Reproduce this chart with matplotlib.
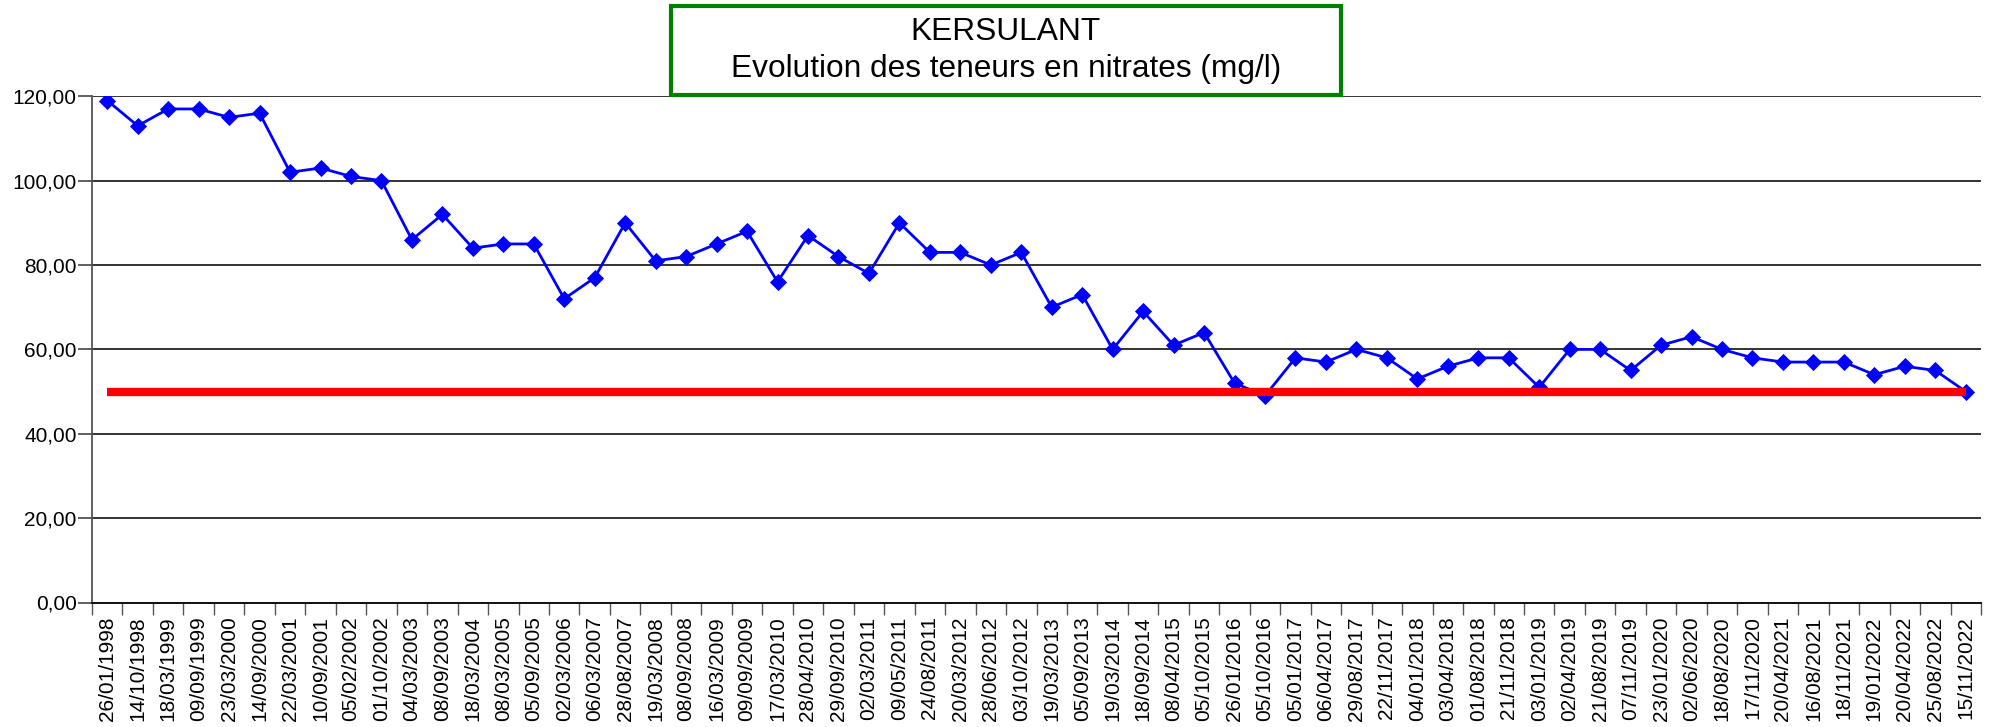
import matplotlib
matplotlib.use("Agg")
import matplotlib.pyplot as plt
from matplotlib.patches import Rectangle
from matplotlib.ticker import FuncFormatter, FixedLocator

plt.rcParams['font.family'] = ['Liberation Sans', 'DejaVu Sans']

dates = ["26/01/1998", "14/10/1998", "18/03/1999", "09/09/1999", "23/03/2000", "14/09/2000",
         "22/03/2001", "10/09/2001", "05/02/2002", "01/10/2002", "04/03/2003", "08/09/2003",
         "18/03/2004", "08/03/2005", "05/09/2005", "02/03/2006", "06/03/2007", "28/08/2007",
         "19/03/2008", "08/09/2008", "16/03/2009", "09/09/2009", "17/03/2010", "28/04/2010",
         "29/09/2010", "02/03/2011", "09/05/2011", "24/08/2011", "20/03/2012", "28/06/2012",
         "03/10/2012", "19/03/2013", "05/09/2013", "19/03/2014", "18/09/2014", "08/04/2015",
         "05/10/2015", "26/01/2016", "05/10/2016", "05/01/2017", "06/04/2017", "29/08/2017",
         "22/11/2017", "04/01/2018", "03/04/2018", "01/08/2018", "21/11/2018", "03/01/2019",
         "02/04/2019", "21/08/2019", "07/11/2019", "23/01/2020", "02/06/2020", "18/08/2020",
         "17/11/2020", "20/04/2021", "16/08/2021", "18/11/2021", "19/01/2022", "20/04/2022",
         "25/08/2022", "15/11/2022"]

nitrates = [119, 113, 117, 117, 115, 116, 102, 103, 101, 100, 86, 92,
            84, 85, 85, 72, 77, 90, 81, 82, 85, 88, 76, 87,
            82, 78, 90, 83, 83, 80, 83, 70, 73, 60, 69, 61,
            64, 52, 49, 58, 57, 60, 58, 53, 56, 58, 58, 51,
            60, 60, 55, 61, 63, 60, 58, 57, 57, 57, 54, 56,
            55, 50]

seuil = 50
yticks = [0, 20, 40, 60, 80, 100, 120]
title_lines = ["KERSULANT", "Evolution des teneurs en nitrates (mg/l)"]

W, H = 1991, 727
fig = plt.figure(figsize=(W / 100, H / 100), dpi=100)
ax = fig.add_axes([92 / W, 1 - 602.5 / H, (1981 - 92) / W, (602.5 - 96.3) / H])

x = list(range(len(dates)))

for yv in yticks:
    ax.axhline(yv, color='#333333', lw=1.4, zorder=1)

ax.plot(x, nitrates, color='#0000FF', lw=2.0, marker='D', markersize=8.0,
        markerfacecolor='#0000FF', markeredgecolor='#0000FF', markeredgewidth=0.6, zorder=3)
ax.plot([x[0], x[-1]], [seuil, seuil], color='#FF0000', lw=6, solid_capstyle='butt', zorder=4)

ax.set_xlim(-0.5, len(dates) - 0.5)
ax.set_ylim(0, 120)

ax.set_yticks(yticks)
ax.yaxis.set_major_formatter(FuncFormatter(lambda v, p: f"{v:.2f}".replace('.', ',')))
ax.tick_params(axis='y', length=10, width=1.2, color='#444444', pad=1, labelsize=15)

ax.set_xticks(x)
ax.set_xticklabels(dates, rotation=90, fontsize=15)
ax.xaxis.set_minor_locator(FixedLocator([i - 0.5 for i in range(len(dates) + 1)]))
ax.tick_params(axis='x', which='major', length=0, pad=10)
ax.tick_params(axis='x', which='minor', length=8.5, width=1.0, color='#555555')

for s in ['top', 'right']:
    ax.spines[s].set_visible(False)
ax.spines['left'].set_color('#555555')
ax.spines['left'].set_linewidth(1.3)
ax.spines['bottom'].set_color('#111111')
ax.spines['bottom'].set_linewidth(1.4)

# Title box
bx0, bx1, by0, by1 = 671, 1341, 6, 95
rect = Rectangle((bx0 / W, 1 - by1 / H), (bx1 - bx0) / W, (by1 - by0) / H,
                 transform=fig.transFigure, facecolor='white', edgecolor='#008000',
                 linewidth=3, zorder=10)
fig.patches.append(rect)
cx = (bx0 + bx1) / 2 / W
fig.text(cx, 1 - 32 / H, title_lines[0], ha='center', va='center', fontsize=22.8, zorder=11)
fig.text(cx, 1 - 69 / H, title_lines[1], ha='center', va='center', fontsize=22.8, zorder=11)

fig.savefig("out.png", dpi=100, facecolor='white')
